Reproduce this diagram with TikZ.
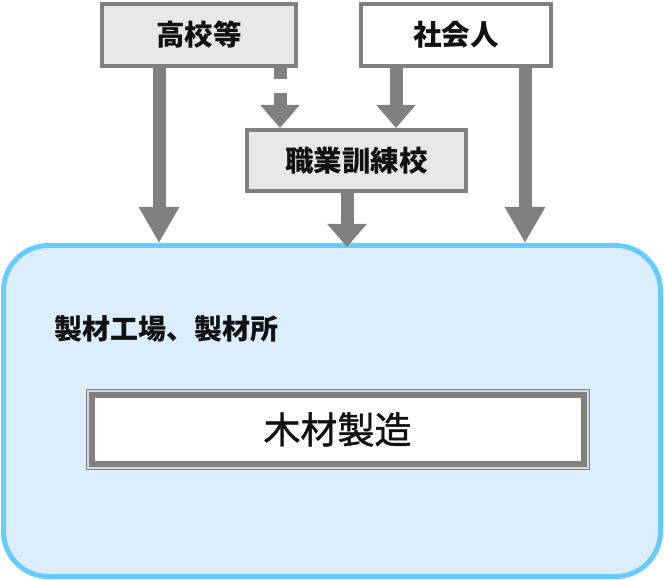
\documentclass[tikz,border=0pt]{standalone}
\usepackage{fontspec}
\newfontfamily\cjk{Noto Sans CJK JP}
\newfontfamily\cjkmed{Noto Sans CJK JP}[FakeBold=1.2]
\usetikzlibrary{arrows.meta,calc}
\definecolor{linegray}{HTML}{808080}
\definecolor{boxgray}{HTML}{E8E8E8}
\definecolor{bigfill}{HTML}{DCEEFE}
\definecolor{bigline}{HTML}{66CCFF}
\definecolor{gapgray}{HTML}{D8D8D8}
\definecolor{txt}{HTML}{111111}
\tikzset{
  srcbox/.style={draw=linegray, line width=4pt, fill=boxgray, minimum height=62pt,
    inner sep=0pt, text=txt, font=\cjk\bfseries\fontsize{28.5pt}{30pt}\selectfont},
  bigbox/.style={draw=bigline, fill=bigfill, line width=5pt, rounded corners=45pt,
    minimum width=657pt, minimum height=331pt, inner sep=0pt},
  longarrow/.style={draw=linegray, line width=13pt,
    -{Triangle[length=36pt,width=38pt]}},
  shortarrow/.style={draw=linegray, line width=13pt,
    -{Triangle[length=23pt,width=38pt]}},
  dashpart/.style={draw=linegray, line width=13pt},
}
\begin{document}
\begin{tikzpicture}[x=1pt,y=1pt]
\useasboundingbox (0,0) rectangle (664,579);
% big container
\node[bigbox] (big) at (332,168) {};
\node[anchor=west, text=txt, font=\cjk\bfseries\fontsize{28pt}{30pt}\selectfont, inner sep=0pt] (lbl) at (54,250) {製材工場、製材所};
% wood production box
\node[draw=linegray, line width=1pt, fill=gapgray, minimum width=503pt, minimum height=80pt, inner sep=0pt] (mkframe) at (337.5,149.5) {};
\node[draw=linegray, line width=6pt, fill=white, minimum width=492pt, minimum height=69pt, inner sep=0pt,
  text=txt, font=\cjkmed\fontsize{37pt}{40pt}\selectfont] (mk) at (337.5,149.5) {木材製造};
% source boxes
\node[srcbox, minimum width=194pt] (koukou) at (199,544) {高校等};
\node[srcbox, minimum width=190pt, fill=white] (shakai) at (456,544) {社会人};
\node[srcbox, minimum width=219pt, minimum height=61pt] (shokugyo) at (356.5,418.5) {職業訓練校};
% arrows
\coordinate (a1s) at (159,0 |- koukou.south);
\coordinate (a1e) at (159,0 |- big.north);
\draw[longarrow] (a1s) -- (a1e);
\coordinate (d1s) at (280,0 |- koukou.south);
\coordinate (d1e) at ($(d1s)+(0,-11)$);
\draw[dashpart] (d1s) -- (d1e);
\coordinate (d2s) at (280,486);
\coordinate (d2e) at (280,0 |- shokugyo.north);
\draw[shortarrow] (d2s) -- (d2e);
\coordinate (a3s) at (396,0 |- shakai.south);
\coordinate (a3e) at (396,0 |- shokugyo.north);
\draw[shortarrow] (a3s) -- (a3e);
\coordinate (a4s) at (347,0 |- shokugyo.south);
\coordinate (a4e) at ($(347,0 |- big.north)+(0,-4)$);
\draw[shortarrow] (a4s) -- (a4e);
\coordinate (a5s) at (525,0 |- shakai.south);
\coordinate (a5e) at (525,0 |- big.north);
\draw[longarrow] (a5s) -- (a5e);
\end{tikzpicture}
\end{document}
